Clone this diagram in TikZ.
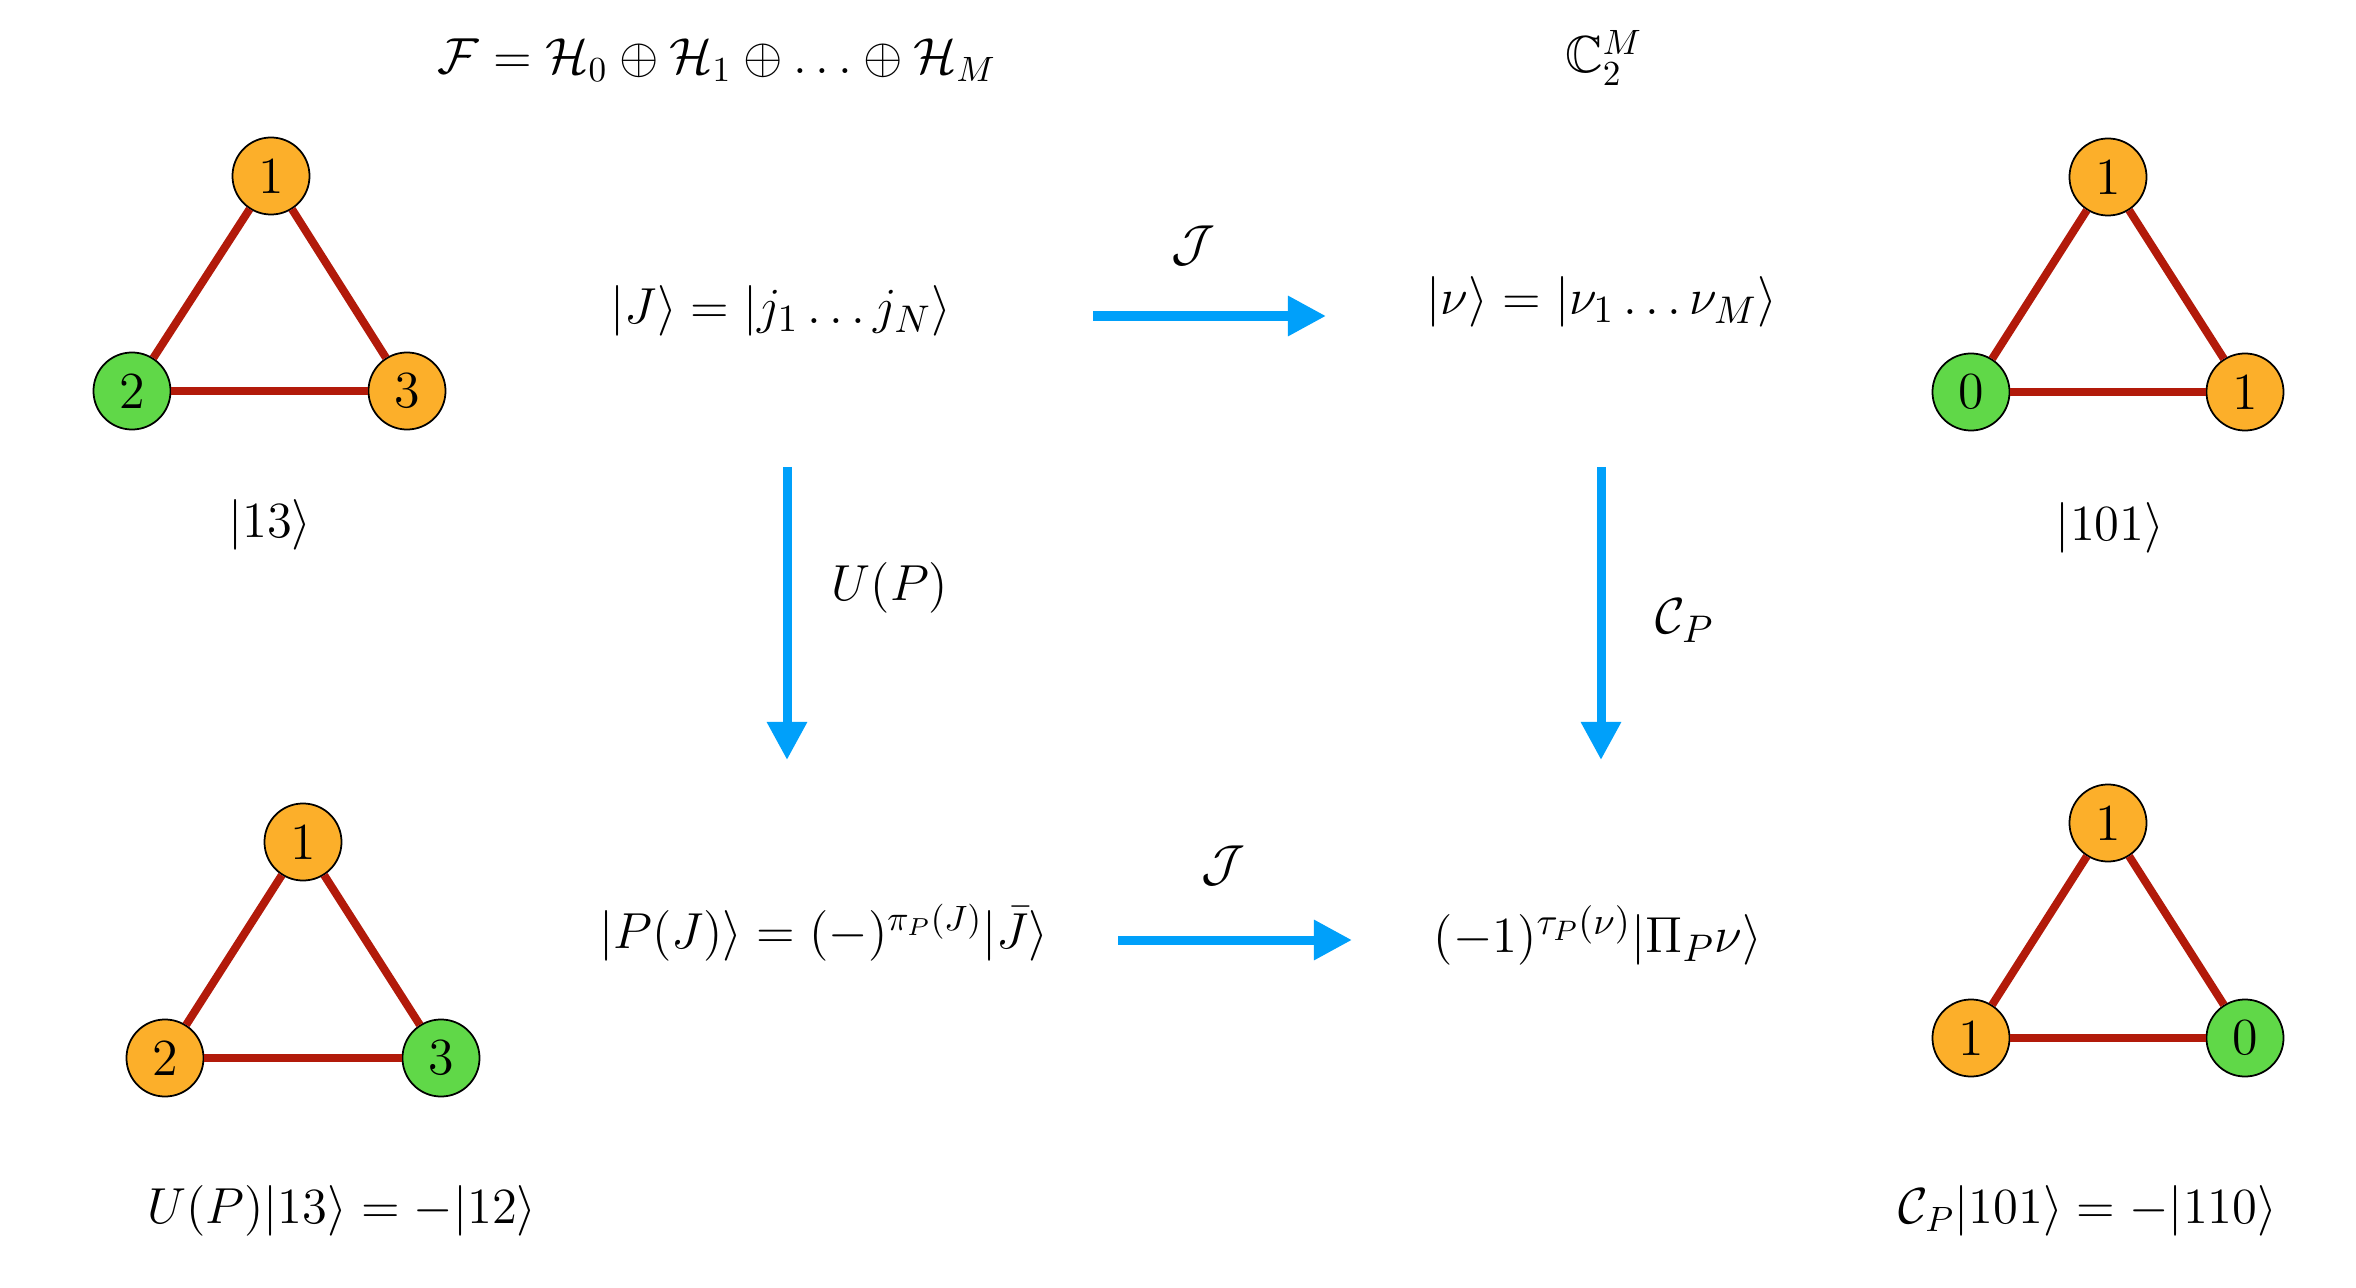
\documentclass[tikz,border=0pt]{standalone}
\usepackage{amsmath,amssymb}
\usetikzlibrary{arrows.meta}
\definecolor{vorange}{RGB}{252,175,42}
\definecolor{vgreen}{RGB}{96,216,72}
\definecolor{edgered}{RGB}{178,26,10}
\definecolor{arrblue}{RGB}{0,160,250}
\begin{document}
\begin{tikzpicture}[x=0.01cm,y=-0.01cm,
  font=\fontsize{14.8}{18}\selectfont,
  vtx/.style={circle,draw=black,line width=0.5pt,minimum size=0.77cm,inner sep=0pt},
  occ/.style={vtx,fill=vorange},
  emp/.style={vtx,fill=vgreen},
  bond/.style={draw=edgered,line width=0.08cm},
  maparrow/.style={draw=arrblue,line width=0.09cm,-{Triangle[length=0.38cm,width=0.38cm]}},
  lbl/.style={inner sep=0pt,anchor=mid},
  bigger/.style={font=\fontsize{15.5}{19}\selectfont},
  big/.style={font=\fontsize{15.2}{19}\selectfont},
  small/.style={font=\fontsize{14.1}{17}\selectfont}]
\useasboundingbox (0,0) rectangle (2356,1288);

% top-left graph
\node[occ] (tl1) at (271,176) {1};
\node[emp] (tl2) at (132,391) {2};
\node[occ] (tl3) at (407,391) {3};
\draw[bond] (tl1) -- (tl2);
\draw[bond] (tl1) -- (tl3);
\draw[bond] (tl2) -- (tl3);
\node[lbl] (tlk) at (270,530) {$|13\rangle$};

% top-right graph
\node[occ] (tr1) at (2108,177) {1};
\node[emp] (tr2) at (1971,392) {0};
\node[occ] (tr3) at (2245,392) {1};
\draw[bond] (tr1) -- (tr2);
\draw[bond] (tr1) -- (tr3);
\draw[bond] (tr2) -- (tr3);
\node[lbl] (trk) at (2110,533) {$|101\rangle$};

% bottom-left graph
\node[occ] (bl1) at (303,842) {1};
\node[occ] (bl2) at (165,1058) {2};
\node[emp] (bl3) at (441,1058) {3};
\draw[bond] (bl1) -- (bl2);
\draw[bond] (bl1) -- (bl3);
\draw[bond] (bl2) -- (bl3);
\node[lbl] (blk) at (342,1216) {$U(P)|13\rangle = -|12\rangle$};

% bottom-right graph
\node[occ] (br1) at (2108,823) {1};
\node[occ] (br2) at (1971,1038) {1};
\node[emp] (br3) at (2245,1038) {0};
\draw[bond] (br1) -- (br2);
\draw[bond] (br1) -- (br3);
\draw[bond] (br2) -- (br3);
\node[lbl] (brk) at (2088,1216) {$\mathcal{C}_P|101\rangle = -|110\rangle$};

% headers
\node[lbl,small] (fock) at (717,66) {$\mathcal{F} = \mathcal{H}_0 \oplus \mathcal{H}_1 \oplus \ldots \oplus \mathcal{H}_M$};
\node[lbl] (cube) at (1604,65) {$\mathbb{C}_2^M$};

% states
\node[lbl,bigger] (J) at (781,316) {$|J\rangle = |j_1\ldots j_N\rangle$};
\node[lbl,bigger] (nu) at (1602,307) {$|\nu\rangle = |\nu_1\ldots\nu_M\rangle$};
\node[lbl] (PJ) at (824,941) {$|P(J)\rangle = (-)^{\pi_P(J)}|\bar{J}\rangle$};
\node[lbl,big] (Pnu) at (1598,945) {$(-1)^{\tau_P(\nu)}|\Pi_P\nu\rangle$};

% arrows
\coordinate (a1s) at (1093,316);
\coordinate (a1e) at (1326,316);
\coordinate (a2s) at (1118,940);
\coordinate (a2e) at (1352,940);
\coordinate (a3s) at (787,467);
\coordinate (a3e) at (787,760);
\coordinate (a4s) at (1601,467);
\coordinate (a4e) at (1601,760);
\draw[maparrow] (a1s) -- (a1e);
\draw[maparrow] (a2s) -- (a2e);
\draw[maparrow] (a3s) -- (a3e);
\draw[maparrow] (a4s) -- (a4e);
\node[lbl,anchor=center,big] (Jt) at (1193,246) {$\mathcal{J}$};
\node[lbl,anchor=center,big] (Jb) at (1223,866) {$\mathcal{J}$};
\node[lbl,big] (UP) at (890,593) {$U(P)$};
\node[lbl,big] (CP) at (1685,626) {$\mathcal{C}_P$};
\end{tikzpicture}
\end{document}
